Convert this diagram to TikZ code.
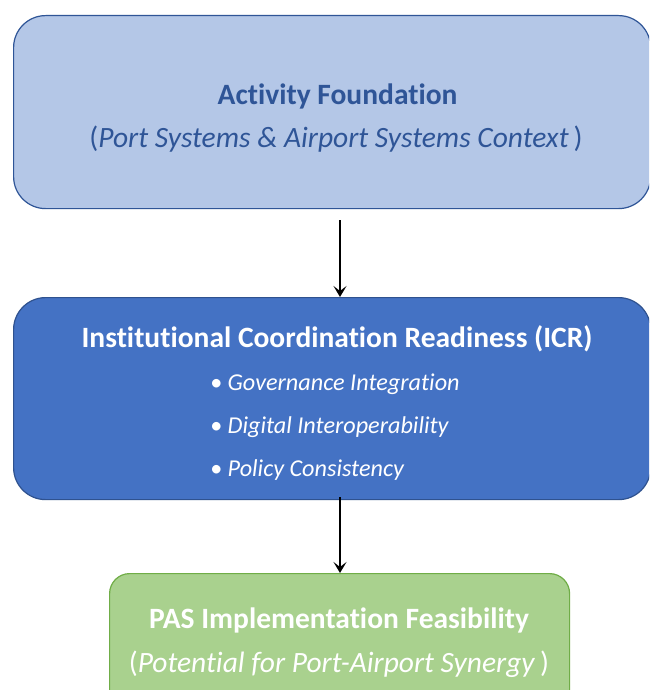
\documentclass[tikz,border=0pt]{standalone}
\usepackage{fontspec}
\setmainfont{Carlito}[Ligatures=NoCommon]
\usetikzlibrary{arrows.meta}
\definecolor{topfill}{HTML}{B4C7E7}
\definecolor{topline}{HTML}{2F5597}
\definecolor{toptext}{HTML}{2F5597}
\definecolor{midfill}{HTML}{4472C4}
\definecolor{midline}{HTML}{2F528F}
\definecolor{botfill}{HTML}{A9D18E}
\definecolor{botline}{HTML}{70AD47}
\tikzset{
  box/.style={draw, line width=1.2pt, rounded corners=32pt, anchor=north west, inner sep=0pt},
  ttl/.style={anchor=base, inner sep=0pt, font=\bfseries\fontsize{29.5}{34}\selectfont},
  sub/.style={anchor=base, inner sep=0pt, font=\fontsize{29.5}{34}\selectfont},
  bul/.style={anchor=base west, inner sep=0pt, text=white, font=\itshape\fontsize{24.2}{28}\selectfont},
  flow/.style={-{Stealth[length=11pt,width=13pt,inset=5pt]}, line width=2.3pt, black}
}
\begin{document}
\begin{tikzpicture}[x=1pt,y=-1pt]
\clip (0,0) rectangle (649,690);
\fill[white] (0,0) rectangle (649,690);
\node[box, fill=topfill, draw=topline, minimum width=637pt, minimum height=193pt] (top) at (13,15) {};
\node[box, fill=midfill, draw=midline, minimum width=637pt, minimum height=202pt] (mid) at (13,297) {};
\node[box, fill=botfill, draw=botline, rounded corners=20pt, minimum width=460pt, minimum height=140pt] (bot) at (109,573) {};
\node[ttl, text=toptext] (t1) at (337.5,105) {Activity Foundation};
\node[sub, text=toptext] (t2) at (336,147) {(\textit{Port Systems \& Airport Systems Context}\,)};
\node[ttl, text=white] (m1) at (337,347) {Institutional Coordination Readiness (ICR)};
\node[bul] (m2) at (210,390) {\textbullet\ Governance Integration};
\node[bul] (m3) at (210,433) {\textbullet\ Digital Interoperability};
\node[bul] (m4) at (210,476) {\textbullet\ Policy Consistency};
\node[ttl, text=white] (b1) at (339,628) {PAS Implementation Feasibility};
\node[sub, text=white] (b2) at (339,672) {(\textit{Potential for Port-Airport Synergy}\,)};
\coordinate (a1s) at (340,220);
\coordinate (a2s) at (340,497);
\draw[flow] (a1s) -- (a1s |- mid.north);
\draw[flow] (a2s) -- (a2s |- bot.north);
\end{tikzpicture}
\end{document}
